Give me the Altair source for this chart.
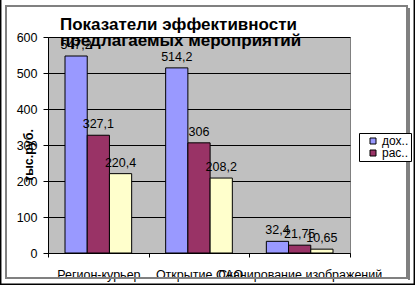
import altair as alt
import pandas as pd

categories = ["Регион-курьер", "Открытие ОАО", "Сканирование изображений"]
series = ["доходы", "расходы", "прибыль"]
income = [547.2, 514.2, 32.4]
expense = [327.1, 306, 21.75]
profit = [220.4, 208.2, 10.65]
y_ticks = [0, 100, 200, 300, 400, 500, 600]
colors = ["#9999FF", "#993366", "#FFFFCC"]

rows = []
for i, c in enumerate(categories):
    for s, vals in zip(series, [income, expense, profit]):
        v = vals[i]
        rows.append({"cat": c, "series": s, "value": v,
                     "label": f"{v:g}".replace(".", ",")})
df = pd.DataFrame(rows)

FONT = "Liberation Sans"

x_enc = alt.X("cat:N", sort=categories,
              scale=alt.Scale(paddingInner=0, paddingOuter=0),
              axis=alt.Axis(title=None, labelAngle=0, tickBand="extent",
                            labelOverlap=False, labelLimit=400,
                            labelPadding=11, tickSize=4, labelFontSize=12.5,
                            domainColor="black", tickColor="black"))
xoff = alt.XOffset("series:N", sort=series,
                   scale=alt.Scale(paddingInner=0, paddingOuter=0.765))

base = alt.Chart(df)

bars = base.mark_bar(stroke="black", strokeWidth=1).encode(
    x=x_enc,
    xOffset=xoff,
    y=alt.Y("value:Q",
            scale=alt.Scale(domain=[0, 600], nice=False),
            axis=alt.Axis(values=y_ticks, tickCount=7, labelOverlap=False,
                          title="тыс.руб.", grid=True,
                          gridColor="black", gridOpacity=1, tickSize=5,
                          labelPadding=6, domainColor="black",
                          tickColor="black", titleAngle=-90,
                          titleX=-20, titleY=118, titleAlign="center",
                          titleBaseline="middle", titleFontWeight="bold",
                          titleFontSize=12.5, titleFont=FONT)),
    color=alt.Color("series:N", sort=series,
                    scale=alt.Scale(domain=series, range=colors),
                    legend=alt.Legend(values=series[:2], title=None,
                                      orient="none", legendX=311, legendY=96,
                                      labelExpr="substring(datum.label, 0, 3) + '..'",
                                      symbolType="square", symbolSize=36,
                                      symbolStrokeColor="black",
                                      symbolStrokeWidth=1,
                                      fillColor="white", strokeColor="black",
                                      padding=2, rowPadding=0,
                                      labelFontSize=12, labelFont=FONT,
                                      labelColor="black", labelOffset=3,
                                      symbolOffset=6)),
)

labels = base.mark_text(baseline="alphabetic", dy=-7, fontSize=12.5,
                        font=FONT, color="black").encode(
    x=alt.X("cat:N", sort=categories),
    xOffset=alt.XOffset("series:N", sort=series),
    y="value:Q",
    text="label:N",
)

one = pd.DataFrame({"a": [0]})

outer = alt.Chart(one).mark_rect(filled=False, stroke="black",
                                 strokeWidth=1.5).encode(
    x=alt.value(-47.3), x2=alt.value(366.3),
    y=alt.value(-45), y2=alt.value(247.3))

frame = alt.Chart(one).mark_rect(filled=False, stroke="#808080",
                                 strokeWidth=2).encode(
    x=alt.value(-42), x2=alt.value(359),
    y=alt.value(-31), y2=alt.value(241))

shadow = alt.Chart(one).mark_rule(stroke="#808080", strokeWidth=2).encode(
    x=alt.value(361), x2=alt.value(361),
    y=alt.value(-29), y2=alt.value(243))

title = alt.Chart(one).mark_text(
    align="left", baseline="alphabetic", fontSize=17, fontWeight="bold",
    font=FONT, color="black", lineBreak="\n", lineHeight=15.5).encode(
    x=alt.value(12), y=alt.value(-7),
    text=alt.value("Показатели эффективности\nпредлагаемых мероприятий"))

chart = alt.layer(bars, labels, frame, shadow, outer, title).properties(
    width=302, height=216,
    padding={"left": 48, "top": 37, "right": 65, "bottom": 32},
    autosize="none",
    background="white",
).configure_view(
    fill="#C0C0C0", stroke="#808080", strokeWidth=1
).configure_axis(
    labelFont=FONT, labelFontSize=12.5, labelColor="black",
)

chart.save("out.html", embed_options={"renderer": "svg", "actions": False})
